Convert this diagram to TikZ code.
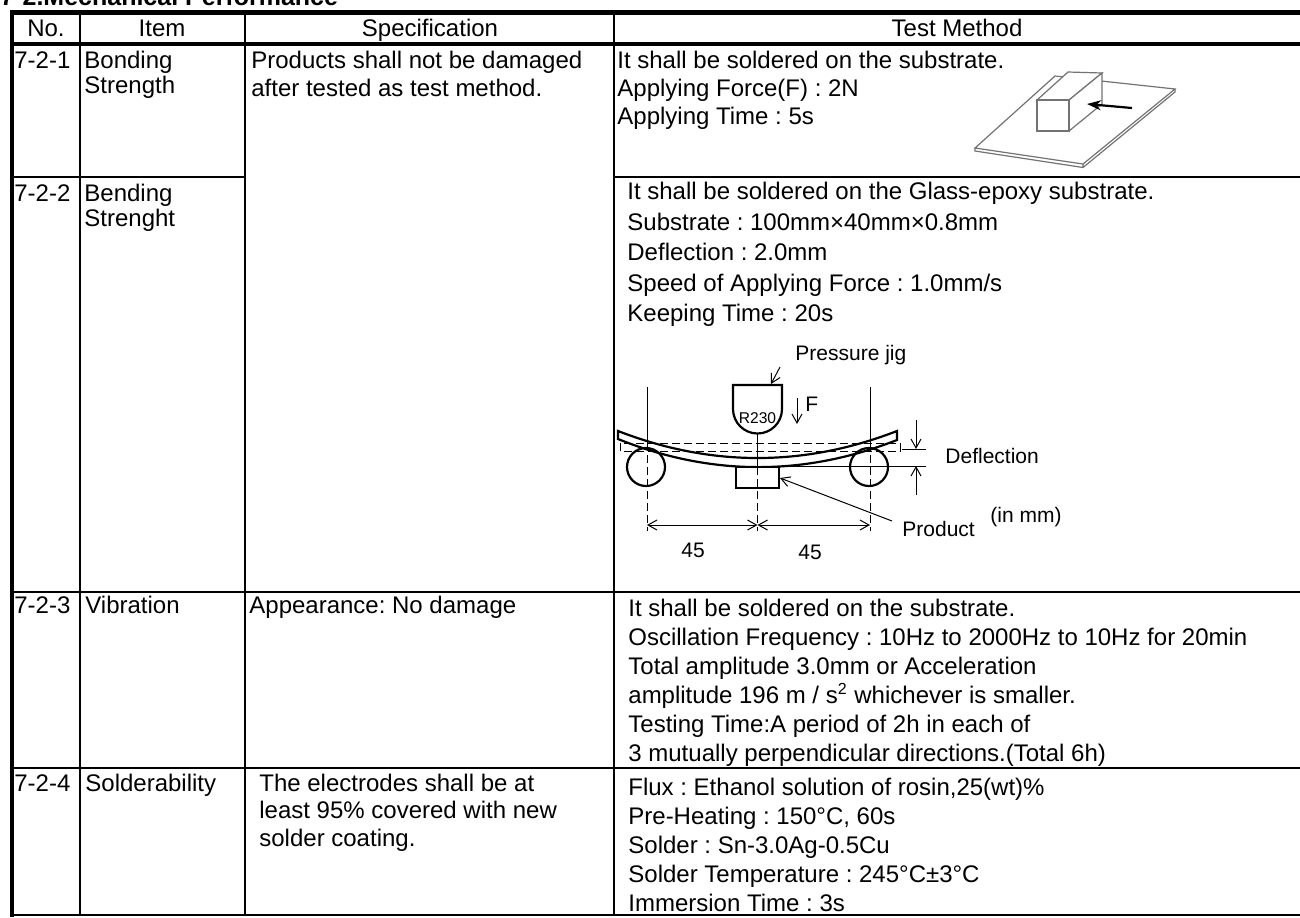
\documentclass[tikz,border=0pt]{standalone}
\usepackage{fontspec}
\setmainfont{Liberation Sans}
\usetikzlibrary{arrows,arrows.meta,positioning}
\tikzset{>=stealth'}
\newcommand{\rowfont}[1]{\fontsize{12}{#1}\selectfont\frenchspacing\lineskiplimit-6pt\relax}
\newcommand{\bodyfont}{\rowfont{14.5}}
\newcommand{\figfont}{\fontsize{10.5}{12}\selectfont\frenchspacing}
\tikzset{cell/.style={anchor=base west,inner sep=0pt,align=left,font=\bodyfont},
         head/.style={anchor=base,inner sep=0pt,font=\bodyfont},
         thick rule/.style={line width=2.25pt},
         thin rule/.style={line width=1pt},
         fig line/.style={line width=1.1pt},
         sketch line/.style={draw=black!55,line width=0.6pt},
         dim line/.style={line width=0.5pt},
         dim tip/.style={{Straight Barb[length=4.5pt,width=5pt]}-{Straight Barb[length=4.5pt,width=5pt]}},
         fig text/.style={inner sep=0pt,font=\figfont},
            }

\begin{document}
\begin{tikzpicture}[x=0.5pt,y=-0.5pt]
    \useasboundingbox (0,0) rectangle (1300,917);

    % title, cut off by the page edge
    \node[anchor=base west,inner sep=0pt,font=\bfseries\fontsize{12.5}{14}\selectfont] (title) at (0,5) {7-2.Mechanical Performance};

    % table rules
    \draw[thin rule] (80,12) -- (80,915) (245,12) -- (245,915) (614,12) -- (614,915);
    \draw[thin rule] (12,177) -- (245,177) (614,177) -- (1300,177);
    \draw[thin rule] (12,592) -- (1300,592) (12,768) -- (1300,768) (12,915) -- (1300,915);
    \draw[thick rule] (10,12.5) -- (1300,12.5) (10,44) -- (1300,44) (12,10.5) -- (12,916.5);

    % header
    \node[head] (hno) at (46,36) {No.};
    \node[head] (hitem) at (162,36) {Item};
    \node[head] (hspec) at (430,36) {Specification};
    \node[head] (htest) at (957,36) {Test Method};

    % 7-2-1 (multi-line cells sit on their last line)
    \node[cell] (no1) at (14,68) {7-2-1};
    \node[cell,font=\rowfont{12.5}] (item1) at (84,93) {Bonding\\Strength};
    \node[cell,font=\rowfont{14}] (spec1) at (251,96) {Products shall not be damaged\\after tested as test method.};
    \node[cell,font=\rowfont{14}] (test1) at (617,124) {It shall be soldered on the substrate.\\Applying Force(F) : 2N\\Applying Time : 5s};

    % 7-2-2
    \node[cell] (no2) at (14,201) {7-2-2};
    \node[cell,font=\rowfont{12.5}] (item2) at (84,226) {Bending\\Strenght};
    \node[cell,font=\rowfont{15.25}] (test2) at (627,321.5) {It shall be soldered on the Glass-epoxy substrate.\\Substrate : 100mm×40mm×0.8mm\\Deflection : 2.0mm\\Speed of Applying Force : 1.0mm/s\\Keeping Time : 20s};

    % 7-2-3
    \node[cell] (no3) at (14,613) {7-2-3};
    \node[cell] (item3) at (85,613) {Vibration};
    \node[cell] (spec3) at (249,613) {Appearance: No damage};
    \node[cell] (test3) at (628,761) {It shall be soldered on the substrate.\\Oscillation Frequency : 10Hz to 2000Hz to 10Hz for 20min\\Total amplitude 3.0mm or Acceleration\\amplitude 196 m / s\textsuperscript{2} whichever is smaller.\\Testing Time:A period of 2h in each of\\3 mutually perpendicular directions.(Total 6h)};

    % 7-2-4
    \node[cell] (no4) at (14,791) {7-2-4};
    \node[cell] (item4) at (85,791) {Solderability};
    \node[cell,font=\rowfont{13.75}] (spec4) at (259,846) {The electrodes shall be at\\least 95\% covered with new\\solder coating.};
    \node[cell] (test4) at (628,911) {Flux : Ethanol solution of rosin,25(wt)\%\\Pre-Heating : 150°C, 60s\\Solder : Sn-3.0Ag-0.5Cu\\Solder Temperature : 245°C±3°C\\Immersion Time : 3s};

    % bonding strength sketch
    \coordinate (bA) at (975,148);
    \coordinate (bB) at (1083,164);
    \coordinate (bC) at (1175,89);
    \coordinate (bD) at (1055,76);
    \coordinate (bA2) at (975,151);
    \coordinate (bB2) at (1083,167.5);
    \coordinate (bC2) at (1175,92);
    \filldraw[sketch line,fill=white] (bA) -- (bB) -- (bC) -- (bD) -- cycle;
    \draw[sketch line] (bA) -- (bA2) -- (bB2) -- (bC2) -- (bC) (bB) -- (bB2);
    \coordinate (kA) at (1037,100);
    \coordinate (kB) at (1069,100);
    \coordinate (kC) at (1069,131);
    \coordinate (kD) at (1037,131);
    \coordinate (kE) at (1068,72);
    \coordinate (kF) at (1102,73);
    \coordinate (kG) at (1102,104);
    \filldraw[sketch line,fill=white] (kA) -- (kE) -- (kF) -- (kB) -- cycle;
    \filldraw[sketch line,fill=white] (kB) -- (kF) -- (kG) -- (kC) -- cycle;
    \filldraw[sketch line,fill=white] (kA) -- (kB) -- (kC) -- (kD) -- cycle;
    \coordinate (push) at (1132,108);
    \coordinate (pushtip) at (1087,104);
    \draw[line width=1.1pt,-{Stealth[length=7pt,width=5pt]}] (push) -- (pushtip);

    % bending strength sketch
    \coordinate (supL) at (646,467);
    \coordinate (supR) at (869,467);
    \draw[fig line] (supL) circle[radius=19] (supR) circle[radius=19];
    \draw[fig line] (618,431) .. controls (711,467) and (804,467) .. (897,431)
        -- (897,440) .. controls (804,476.3) and (711,476.3) .. (618,439) -- cycle;
    \draw[dim line,dash pattern=on 4pt off 2pt] (620,443) rectangle (900,451);
    \draw[fig line,fill=white] (736,467) rectangle (779,488);
    \draw[fig line] (733,385) -- (782,385) -- (782,409) arc[start angle=0,end angle=180,radius=24.5] -- cycle;
    \node[fig text,font=\fontsize{7.8}{9}\selectfont] (rad) at (757.5,418) {R230};

    % centre and support lines
    \draw[dim line] (647,387) -- (647,443) (870,387) -- (870,443) (757.5,433.5) -- (757.5,467);
    \draw[dim line,dash pattern=on 4pt off 2pt] (647,443) -- (647,531) (870,443) -- (870,531) (757.5,467) -- (757.5,531);

    % force
    \coordinate (ftop) at (797,398);
    \coordinate (fbot) at (797,424);
    \draw[dim line,-{Straight Barb[length=4.5pt,width=5pt]}] (ftop) -- (fbot);
    \node[fig text,anchor=west] (flabel) at (805,404) {F};

    % pressure jig label
    \node[fig text,anchor=west] (jiglabel) at (795,355) {Pressure jig};
    \coordinate (jigfrom) at (780,367);
    \coordinate (jigto) at (771,384);
    \draw[dim line,-{Straight Barb[length=4.5pt,width=5pt]}] (jigfrom) -- (jigto);

    % spans
    \coordinate (dL) at (647,525);
    \coordinate (dC) at (757.5,525);
    \coordinate (dR) at (870,525);
    \draw[dim line,dim tip] (dL) -- (dC);
    \draw[dim line,dim tip] (dC) -- (dR);
    \node[fig text] (spanL) at (693,550) {45};
    \node[fig text] (spanR) at (810,552) {45};

    % deflection
    \draw[dim line] (902,449) -- (926,449) (779,466) -- (926,466);
    \coordinate (dfa) at (916,420);
    \coordinate (dfb) at (916,449);
    \coordinate (dfc) at (916,495);
    \coordinate (dfd) at (916,466);
    \draw[dim line,-{Straight Barb[length=4.5pt,width=5pt]}] (dfa) -- (dfb);
    \draw[dim line,-{Straight Barb[length=4.5pt,width=5pt]}] (dfc) -- (dfd);
    \node[fig text,anchor=west] (deflabel) at (945,456) {Deflection};

    % product
    \node[fig text,anchor=west] (prodlabel) at (902,529) {Product};
    \node[fig text,anchor=west] (unit) at (990,517) {(in mm)};
    \coordinate (prodfrom) at (892,521);
    \coordinate (prodto) at (780,478);
    \draw[dim line,-{Straight Barb[length=4.5pt,width=5pt]}] (prodfrom) -- (prodto);

\end{tikzpicture}
\end{document}
